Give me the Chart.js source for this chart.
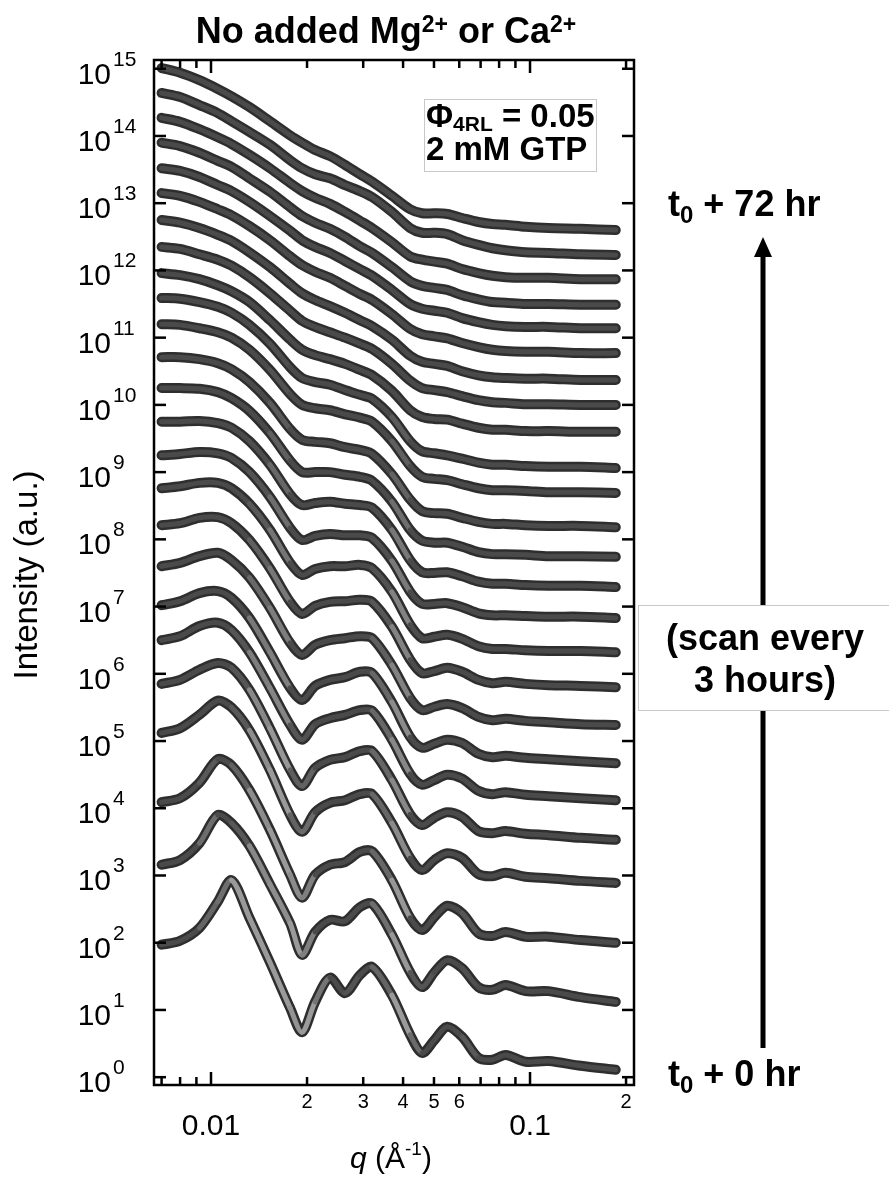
<!DOCTYPE html>
<html>
<head>
<meta charset="utf-8">
<script src="https://cdn.jsdelivr.net/npm/chart.js@4.4.1/dist/chart.umd.min.js"></script>
<style>
html,body{margin:0;padding:0;background:#fff;}
canvas{display:block;}
</style>
</head>
<body>
<canvas id="c" width="889" height="1183"></canvas>
<script>
// ---------------- DATA ----------------
const qValues = [0.0070, 0.0080, 0.0092, 0.0105, 0.0116, 0.0132, 0.0153, 0.0177, 0.0193, 0.0212, 0.0236, 0.0263, 0.0293, 0.0320, 0.0369, 0.0421, 0.0459, 0.0501, 0.0550, 0.0613, 0.0689, 0.0762, 0.0838, 0.0968, 0.1143, 0.1441, 0.1857];
const scanHours = [0, 3, 6, 9, 12, 15, 18, 21, 24, 27, 30, 33, 36, 39, 42, 45, 48, 51, 54, 57, 60, 63, 66, 69, 72];

// log10 of intensity (a.u.), offset curves as plotted
const logI_t00h = [1.97, 2.03, 2.22, 2.61, 2.93, 2.37, 1.71, 1.03, 0.67, 1.12, 1.48, 1.25, 1.52, 1.64, 1.22, 0.63, 0.36, 0.55, 0.75, 0.60, 0.29, 0.26, 0.33, 0.23, 0.24, 0.17, 0.11];
const logI_t03h = [3.16, 3.23, 3.48, 3.90, 3.78, 3.44, 2.87, 2.29, 1.82, 2.16, 2.34, 2.32, 2.53, 2.58, 2.12, 1.56, 1.34, 1.56, 1.74, 1.62, 1.34, 1.30, 1.37, 1.28, 1.28, 1.19, 1.12];
const logI_t06h = [4.09, 4.15, 4.38, 4.73, 4.64, 4.27, 3.68, 3.01, 2.67, 3.01, 3.16, 3.20, 3.35, 3.36, 2.93, 2.37, 2.19, 2.38, 2.55, 2.44, 2.14, 2.10, 2.16, 2.09, 2.09, 2.04, 2.00];
const logI_t09h = [5.12, 5.19, 5.39, 5.60, 5.50, 5.16, 4.57, 3.90, 3.65, 3.94, 4.08, 4.12, 4.21, 4.21, 3.78, 3.26, 3.08, 3.23, 3.33, 3.26, 3.02, 2.99, 3.04, 2.98, 2.96, 2.92, 2.89];
const logI_t12h = [5.85, 5.91, 6.06, 6.16, 6.09, 5.76, 5.19, 4.57, 4.33, 4.60, 4.72, 4.76, 4.85, 4.85, 4.42, 3.91, 3.75, 3.86, 3.94, 3.87, 3.66, 3.63, 3.66, 3.62, 3.60, 3.56, 3.53];
const logI_t15h = [6.50, 6.56, 6.71, 6.76, 6.65, 6.32, 5.79, 5.24, 5.02, 5.25, 5.34, 5.39, 5.46, 5.45, 5.02, 4.51, 4.35, 4.42, 4.50, 4.44, 4.26, 4.21, 4.24, 4.20, 4.18, 4.15, 4.12];
const logI_t18h = [7.02, 7.08, 7.20, 7.23, 7.13, 6.83, 6.32, 5.79, 5.61, 5.82, 5.91, 5.95, 6.03, 6.01, 5.58, 5.06, 4.90, 4.96, 5.02, 4.97, 4.81, 4.76, 4.78, 4.75, 4.73, 4.70, 4.67];
const logI_t21h = [7.60, 7.65, 7.75, 7.80, 7.69, 7.43, 6.98, 6.46, 6.28, 6.43, 6.50, 6.53, 6.56, 6.53, 6.13, 5.64, 5.46, 5.51, 5.55, 5.49, 5.36, 5.31, 5.33, 5.30, 5.28, 5.25, 5.24];
const logI_t24h = [8.21, 8.24, 8.32, 8.33, 8.24, 7.99, 7.57, 7.07, 6.89, 7.01, 7.07, 7.08, 7.10, 7.07, 6.70, 6.21, 6.01, 6.04, 6.09, 6.03, 5.91, 5.86, 5.88, 5.85, 5.83, 5.82, 5.80];
const logI_t27h = [8.76, 8.79, 8.84, 8.84, 8.76, 8.53, 8.14, 7.65, 7.47, 7.56, 7.60, 7.60, 7.62, 7.57, 7.22, 6.73, 6.53, 6.55, 6.58, 6.52, 6.41, 6.37, 6.37, 6.35, 6.34, 6.34, 6.32];
const logI_t30h = [9.25, 9.27, 9.30, 9.28, 9.21, 9.00, 8.63, 8.17, 7.99, 8.05, 8.08, 8.06, 8.06, 8.02, 7.68, 7.22, 7.04, 7.04, 7.05, 6.99, 6.90, 6.87, 6.87, 6.86, 6.85, 6.85, 6.83];
const logI_t33h = [9.75, 9.75, 9.76, 9.73, 9.66, 9.46, 9.11, 8.67, 8.51, 8.54, 8.56, 8.53, 8.51, 8.47, 8.14, 7.69, 7.51, 7.50, 7.51, 7.45, 7.37, 7.34, 7.34, 7.32, 7.31, 7.31, 7.29];
const logI_t36h = [10.25, 10.25, 10.24, 10.19, 10.10, 9.91, 9.58, 9.17, 9.00, 9.00, 9.00, 8.96, 8.93, 8.87, 8.56, 8.14, 7.98, 7.95, 7.95, 7.89, 7.81, 7.78, 7.78, 7.77, 7.75, 7.75, 7.74];
const logI_t39h = [10.71, 10.71, 10.68, 10.62, 10.53, 10.34, 10.03, 9.64, 9.48, 9.45, 9.43, 9.37, 9.33, 9.27, 8.97, 8.59, 8.42, 8.39, 8.38, 8.32, 8.26, 8.23, 8.23, 8.21, 8.20, 8.20, 8.18];
const logI_t42h = [11.20, 11.19, 11.14, 11.08, 11.00, 10.82, 10.52, 10.16, 10.00, 9.95, 9.92, 9.86, 9.81, 9.75, 9.46, 9.09, 8.93, 8.90, 8.88, 8.82, 8.76, 8.73, 8.73, 8.72, 8.70, 8.70, 8.69];
const logI_t45h = [11.59, 11.58, 11.53, 11.46, 11.37, 11.19, 10.91, 10.56, 10.40, 10.34, 10.30, 10.22, 10.15, 10.09, 9.82, 9.46, 9.31, 9.28, 9.25, 9.20, 9.14, 9.11, 9.11, 9.09, 9.08, 9.08, 9.06];
const logI_t48h = [11.96, 11.93, 11.87, 11.78, 11.69, 11.53, 11.26, 10.97, 10.82, 10.74, 10.68, 10.61, 10.52, 10.44, 10.21, 9.92, 9.82, 9.79, 9.78, 9.72, 9.66, 9.63, 9.63, 9.61, 9.61, 9.60, 9.60];
const logI_t51h = [12.35, 12.32, 12.24, 12.16, 12.07, 11.90, 11.66, 11.40, 11.25, 11.16, 11.08, 11.00, 10.91, 10.83, 10.61, 10.36, 10.25, 10.22, 10.19, 10.13, 10.07, 10.04, 10.03, 10.01, 10.01, 10.00, 10.00];
const logI_t54h = [12.75, 12.71, 12.63, 12.53, 12.44, 12.27, 12.05, 11.80, 11.66, 11.56, 11.47, 11.37, 11.26, 11.17, 10.97, 10.73, 10.64, 10.61, 10.58, 10.50, 10.44, 10.41, 10.40, 10.39, 10.39, 10.37, 10.37];
const logI_t57h = [13.15, 13.11, 13.02, 12.91, 12.82, 12.66, 12.45, 12.21, 12.08, 11.98, 11.89, 11.77, 11.65, 11.56, 11.35, 11.13, 11.05, 11.02, 10.99, 10.92, 10.86, 10.82, 10.80, 10.79, 10.79, 10.77, 10.77];
const logI_t60h = [13.52, 13.48, 13.39, 13.27, 13.18, 13.02, 12.81, 12.59, 12.45, 12.35, 12.26, 12.14, 12.02, 11.92, 11.71, 11.50, 11.43, 11.40, 11.37, 11.29, 11.23, 11.19, 11.17, 11.16, 11.16, 11.14, 11.14];
const logI_t63h = [13.90, 13.85, 13.75, 13.63, 13.54, 13.37, 13.17, 12.94, 12.81, 12.71, 12.62, 12.50, 12.36, 12.26, 12.05, 11.84, 11.77, 11.74, 11.71, 11.63, 11.57, 11.53, 11.52, 11.50, 11.50, 11.49, 11.49];
const logI_t66h = [14.27, 14.21, 14.10, 13.98, 13.88, 13.72, 13.52, 13.30, 13.18, 13.08, 12.99, 12.87, 12.74, 12.63, 12.42, 12.21, 12.16, 12.13, 12.10, 12.02, 11.96, 11.92, 11.90, 11.89, 11.89, 11.87, 11.87];
const logI_t69h = [14.64, 14.58, 14.46, 14.34, 14.22, 14.06, 13.87, 13.64, 13.52, 13.43, 13.37, 13.27, 13.18, 13.09, 12.87, 12.63, 12.56, 12.56, 12.54, 12.45, 12.38, 12.33, 12.30, 12.27, 12.26, 12.24, 12.23];
const logI_t72h = [15.01, 14.94, 14.83, 14.70, 14.59, 14.43, 14.22, 14.01, 13.90, 13.79, 13.70, 13.57, 13.43, 13.32, 13.11, 12.91, 12.85, 12.85, 12.84, 12.78, 12.72, 12.69, 12.68, 12.65, 12.63, 12.62, 12.60];

const seriesLogI = [logI_t00h, logI_t03h, logI_t06h, logI_t09h, logI_t12h, logI_t15h, logI_t18h, logI_t21h, logI_t24h,
  logI_t27h, logI_t30h, logI_t33h, logI_t36h, logI_t39h, logI_t42h, logI_t45h, logI_t48h, logI_t51h, logI_t54h,
  logI_t57h, logI_t60h, logI_t63h, logI_t66h, logI_t69h, logI_t72h];

// tick definitions
const yTickExponents = [0, 1, 2, 3, 4, 5, 6, 7, 8, 9, 10, 11, 12, 13, 14, 15];
const xMajorTicks = [0.01, 0.1];
const xMajorLabels = ['0.01', '0.1'];
const xMinorTicks = [0.007, 0.008, 0.009, 0.02, 0.03, 0.04, 0.05, 0.06, 0.07, 0.08, 0.09, 0.2];
const xMinorLabels = ['', '', '', '2', '3', '4', '5', '6', '', '', '', '2'];

// ---------------- CHART ----------------
const FONT = '"Liberation Sans", Arial, Helvetica, sans-serif';

// lighter marker interior on steep stretches (open circles spread apart)
function innerColor(c) {
  const dx = Math.abs(c.p1.x - c.p0.x) || 1;
  const s = Math.abs(c.p1.y - c.p0.y) / dx;
  const t = Math.max(0, Math.min(1, (s - 1.1) / 1.0));
  const g = Math.round(74 + t * 80);
  return 'rgb(' + g + ',' + g + ',' + g + ')';
}

const datasets = [];
seriesLogI.forEach((arr, k) => {
  const pts = arr.map((v, i) => ({ x: qValues[i], y: Math.pow(10, v) }));
  datasets.push({
    label: 't0 + ' + scanHours[k] + ' hr',
    data: pts,
    borderColor: '#2e2e2e',
    borderWidth: 10,
    pointRadius: 0,
    fill: false,
    tension: 0.3,
    borderCapStyle: 'round',
    borderJoinStyle: 'round',
    order: 2
  });
  datasets.push({
    label: 't0 + ' + scanHours[k] + ' hr (core)',
    data: pts,
    borderColor: '#4a4a4a',
    segment: { borderColor: innerColor },
    borderWidth: 5,
    pointRadius: 0,
    fill: false,
    tension: 0.3,
    borderCapStyle: 'round',
    borderJoinStyle: 'round',
    order: 1
  });
});

function line(ctx, x1, y1, x2, y2) {
  ctx.beginPath(); ctx.moveTo(x1, y1); ctx.lineTo(x2, y2); ctx.stroke();
}
function drawPieces(ctx, x, y, pieces) {
  ctx.textAlign = 'left';
  pieces.forEach(p => {
    ctx.font = p[1];
    ctx.fillText(p[0], x, y + (p[2] || 0));
    x += ctx.measureText(p[0]).width;
  });
  return x;
}
function piecesWidth(ctx, pieces) {
  let w = 0;
  pieces.forEach(p => { ctx.font = p[1]; w += ctx.measureText(p[0]).width; });
  return w;
}

const decorations = {
  id: 'decorations',
  afterDatasetsDraw(chart) {
    const { ctx, chartArea: a, scales: { x, y } } = chart;
    ctx.save();
    ctx.strokeStyle = '#000';
    ctx.fillStyle = '#000';
    ctx.lineWidth = 2.5;
    ctx.lineCap = 'butt';
    ctx.strokeRect(a.left, a.top, a.right - a.left, a.bottom - a.top);

    yTickExponents.forEach(e => {
      const py = y.getPixelForValue(Math.pow(10, e));
      line(ctx, a.left, py, a.left + 12, py);
      line(ctx, a.right, py, a.right - 12, py);
      ctx.font = '30px ' + FONT;
      ctx.textAlign = 'right';
      ctx.fillText('10', 111, py + 15);
      ctx.font = '21px ' + FONT;
      ctx.textAlign = 'left';
      ctx.fillText(String(e), 113, py - 3);
    });

    xMajorTicks.forEach((v, i) => {
      const px = x.getPixelForValue(v);
      line(ctx, px, a.bottom, px, a.bottom - 13);
      line(ctx, px, a.top, px, a.top + 13);
      ctx.font = '30px ' + FONT;
      ctx.textAlign = 'center';
      ctx.fillText(xMajorLabels[i], px, a.bottom + 50);
    });
    xMinorTicks.forEach((v, i) => {
      const px = x.getPixelForValue(v);
      line(ctx, px, a.bottom, px, a.bottom - 8);
      line(ctx, px, a.top, px, a.top + 8);
      if (xMinorLabels[i]) {
        ctx.font = '20px ' + FONT;
        ctx.textAlign = 'center';
        ctx.fillText(xMinorLabels[i], px, a.bottom + 23);
      }
    });

    drawPieces(ctx, 350, 1168, [
      ['q', 'italic 30px ' + FONT],
      [' (Å', '30px ' + FONT],
      ['-1', '19px ' + FONT, -13],
      [')', '30px ' + FONT]
    ]);

    ctx.save();
    ctx.translate(37, 575);
    ctx.rotate(-Math.PI / 2);
    ctx.font = '33px ' + FONT;
    ctx.textAlign = 'center';
    ctx.fillText('Intensity (a.u.)', 0, 0);
    ctx.restore();

    const titlePieces = [
      ['No added Mg', 'bold 36px ' + FONT],
      ['2+', 'bold 23px ' + FONT, -11],
      [' or Ca', 'bold 36px ' + FONT],
      ['2+', 'bold 23px ' + FONT, -11]
    ];
    const tw = piecesWidth(ctx, titlePieces);
    drawPieces(ctx, 386 - tw / 2, 43, titlePieces);

    ctx.fillStyle = '#fff';
    ctx.fillRect(424.5, 99.5, 172, 72);
    ctx.strokeStyle = '#c8c8c8';
    ctx.lineWidth = 1;
    ctx.strokeRect(424.5, 99.5, 172, 72);
    ctx.fillStyle = '#000';
    drawPieces(ctx, 426, 127, [
      ['Φ', 'bold 33px ' + FONT],
      ['4RL', 'bold 21px ' + FONT, 4],
      [' = 0.05', 'bold 33px ' + FONT]
    ]);
    drawPieces(ctx, 426, 160, [['2 mM GTP', 'bold 33px ' + FONT]]);

    ctx.strokeStyle = '#000';
    ctx.lineWidth = 5;
    line(ctx, 763, 1048, 763, 252);
    ctx.beginPath();
    ctx.moveTo(754, 257); ctx.lineTo(772, 257); ctx.lineTo(763, 237); ctx.closePath();
    ctx.fill();

    drawPieces(ctx, 668, 216, [
      ['t', 'bold 36px ' + FONT],
      ['0', 'bold 24px ' + FONT, 7],
      [' + 72 hr', 'bold 36px ' + FONT]
    ]);
    drawPieces(ctx, 668, 1086, [
      ['t', 'bold 36px ' + FONT],
      ['0', 'bold 24px ' + FONT, 7],
      [' + 0 hr', 'bold 36px ' + FONT]
    ]);

    ctx.fillStyle = '#fff';
    ctx.fillRect(638.5, 605.5, 252, 105);
    ctx.strokeStyle = '#c8c8c8';
    ctx.lineWidth = 1;
    ctx.strokeRect(638.5, 605.5, 252, 105);
    ctx.fillStyle = '#000';
    ctx.font = 'bold 36px ' + FONT;
    ctx.textAlign = 'center';
    ctx.fillText('(scan every', 765, 650);
    ctx.fillText('3 hours)', 765, 692);
    ctx.restore();
  }
};

new Chart(document.getElementById('c'), {
  type: 'line',
  data: { datasets },
  options: {
    responsive: false,
    animation: false,
    devicePixelRatio: 1,
    layout: { padding: { left: 154, top: 60, right: 255, bottom: 98 } },
    scales: {
      x: { type: 'logarithmic', min: 0.006627, max: 0.2118, display: false },
      y: { type: 'logarithmic', min: 0.765, max: 1.349e15, display: false }
    },
    plugins: { legend: { display: false }, tooltip: { enabled: false } }
  },
  plugins: [decorations]
});
</script>
</body>
</html>
